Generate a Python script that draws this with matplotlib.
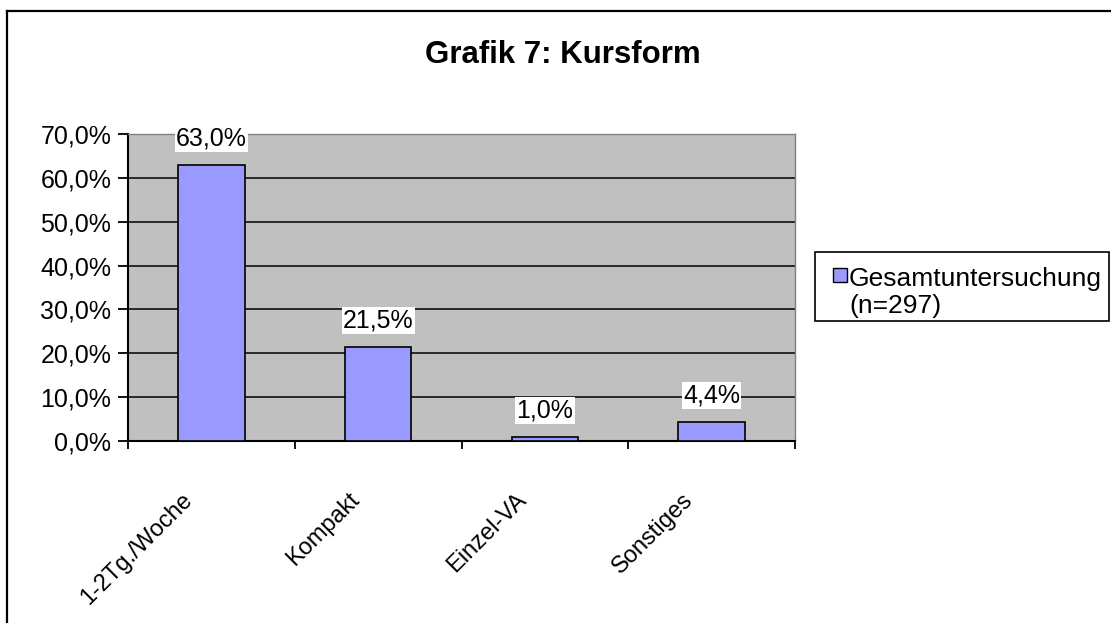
import matplotlib
matplotlib.use("Agg")
import matplotlib.pyplot as plt
from matplotlib.patches import Rectangle
from matplotlib.lines import Line2D
from matplotlib.transforms import offset_copy

plt.rcParams["font.family"] = ["Liberation Sans", "DejaVu Sans"]

categories = ["1-2Tg./Woche", "Kompakt", "Einzel-VA", "Sonstiges"]
values = [63.0, 21.5, 1.0, 4.4]
y_ticks = [0, 10, 20, 30, 40, 50, 60, 70]
series_label = "Gesamtuntersuchung"
series_note = "(n=297)"
title = "Grafik 7: Kursform"

W, H = 1111, 623
BAR_COLOR = "#9999FF"


def fx(x):
    return x / W


def fy(y):
    return 1 - y / H


def pct(v):
    return f"{v:.1f}%".replace(".", ",")


fig = plt.figure(figsize=(W / 100, H / 100), dpi=100)
ax = fig.add_axes([fx(128), fy(441), fx(795) - fx(128), fy(134) - fy(441)])
ax.set_facecolor("#C0C0C0")

x = list(range(len(categories)))
ax.bar(x, values, width=0.4, color=BAR_COLOR, edgecolor="black", linewidth=1.2, zorder=3)

ax.set_xlim(-0.5, len(categories) - 0.5)
ax.set_ylim(0, 70)
ax.set_yticks(y_ticks)
ax.set_yticklabels([pct(v) for v in y_ticks], fontsize=18)
ax.yaxis.grid(True, color="black", linewidth=1.1, zorder=1)
ax.set_axisbelow(True)

ax.set_xticks([i - 0.5 for i in range(len(categories) + 1)])
ax.set_xticklabels([])
ax.tick_params(axis="x", direction="out", length=6, width=1.3, color="black")
ax.tick_params(axis="y", direction="out", length=7, width=1.3, color="black", pad=5)

for side in ("left", "bottom"):
    ax.spines[side].set_linewidth(1.5)
    ax.spines[side].set_color("black")
for side in ("top", "right"):
    ax.spines[side].set_linewidth(1.0)
    ax.spines[side].set_color("#808080")

# category labels, rotated, offset below the axis
lab_tr = offset_copy(ax.get_xaxis_transform(), fig=fig, x=-30, y=-48, units="dots")
for i, name in enumerate(categories):
    ax.text(i, 0, name, transform=lab_tr, rotation=45, ha="right", va="top",
            rotation_mode="anchor", fontsize=17)

# value labels with white boxes
val_tr = offset_copy(ax.transData, fig=fig, x=0, y=14, units="dots")
for i, v in enumerate(values):
    ax.text(i, v, pct(v), transform=val_tr, ha="center", va="bottom", fontsize=18,
            bbox=dict(boxstyle="square,pad=0.05", facecolor="white", edgecolor="none"),
            zorder=5, clip_on=False)

fig.text(fx(563), fy(63), title, ha="center", va="baseline", fontsize=22.5,
         fontweight="bold")

# legend box
fig.patches.append(Rectangle((fx(815), fy(321)), fx(1109) - fx(815), fy(252) - fy(321),
                             transform=fig.transFigure, facecolor="white",
                             edgecolor="black", linewidth=1.2))
fig.patches.append(Rectangle((fx(833), fy(282)), fx(847) - fx(833), fy(268) - fy(282),
                             transform=fig.transFigure, facecolor=BAR_COLOR,
                             edgecolor="black", linewidth=1.0))
fig.text(fx(849), fy(286), series_label, ha="left", va="baseline", fontsize=19)
fig.text(fx(849), fy(313), series_note, ha="left", va="baseline", fontsize=19)

# outer frame (left and top edges visible)
fig.add_artist(Line2D([fx(7), fx(7)], [fy(623), fy(11)], transform=fig.transFigure,
                      color="black", linewidth=1.6))
fig.add_artist(Line2D([fx(7), fx(1111)], [fy(11), fy(11)], transform=fig.transFigure,
                      color="black", linewidth=1.6))

fig.savefig("out.png", dpi=100, facecolor="white")
